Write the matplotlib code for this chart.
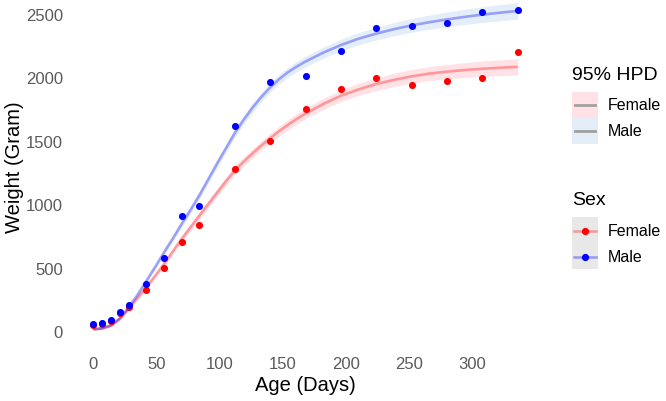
import matplotlib
matplotlib.use("Agg")
import matplotlib.pyplot as plt
from matplotlib.patches import Rectangle
from matplotlib.lines import Line2D

plt.rcParams['font.family'] = ['Liberation Sans', 'DejaVu Sans']

# observed data
obs_age = [0, 7, 14, 21, 28, 42, 56, 70, 84, 112, 140, 168, 196, 224, 252, 280, 308, 336]
female_obs = [48, 56, 82, 140, 192, 326, 494, 700, 836, 1278, 1496, 1748, 1909, 1993, 1943, 1969, 1993, 2203]
male_obs = [55, 63, 89, 152, 207, 371, 573, 905, 983, 1619, 1966, 2013, 2211, 2387, 2405, 2429, 2518, 2534]

# fitted curves (posterior mean) and 95% HPD half-widths
fit_age = [0, 7, 14, 21, 28, 35, 42, 49, 56, 63, 70, 77, 84, 91, 98, 105, 112, 119, 126, 133,
           140, 147, 154, 161, 168, 182, 196, 210, 224, 238, 252, 266, 280, 294, 308, 322, 336]
female_fit = [12, 20, 42, 95, 175, 260, 345, 435, 528, 628, 726, 818, 909, 1000, 1090, 1180,
              1265, 1335, 1400, 1462, 1520, 1575, 1625, 1672, 1715, 1790, 1855, 1905, 1948,
              1980, 2008, 2030, 2045, 2058, 2068, 2076, 2083]
male_fit = [15, 22, 45, 100, 185, 285, 395, 505, 620, 730, 845, 955, 1070, 1195, 1320, 1440,
            1560, 1665, 1760, 1845, 1920, 1985, 2040, 2085, 2125, 2195, 2255, 2305, 2345,
            2380, 2410, 2435, 2457, 2477, 2495, 2510, 2524]
female_hpd = [8, 9, 10, 12, 14, 16, 18, 20, 22, 24, 26, 28, 30, 31, 32, 33, 34, 35, 36, 37,
              38, 39, 40, 41, 42, 44, 46, 48, 50, 52, 54, 55, 56, 58, 60, 62, 64]
male_hpd = [8, 9, 10, 12, 14, 16, 18, 20, 22, 24, 26, 28, 30, 31, 32, 33, 34, 35, 36, 37,
            38, 39, 40, 41, 42, 44, 46, 48, 50, 52, 54, 56, 58, 60, 62, 64, 66]

x_ticks = [0, 50, 100, 150, 200, 250, 300]
y_ticks = [0, 500, 1000, 1500, 2000, 2500]

W, H = 666, 402
fig = plt.figure(figsize=(W / 100, H / 100), dpi=100)
ax = fig.add_axes([72 / W, (H - 348) / H, (539 - 72) / W, 348 / H])

f_lo = [m - h for m, h in zip(female_fit, female_hpd)]
f_hi = [m + h for m, h in zip(female_fit, female_hpd)]
m_lo = [m - h for m, h in zip(male_fit, male_hpd)]
m_hi = [m + h for m, h in zip(male_fit, male_hpd)]

ax.fill_between(fit_age, f_lo, f_hi, color='#FFB6C1', alpha=0.4, lw=0)
ax.fill_between(fit_age, m_lo, m_hi, color='#B0CFEF', alpha=0.35, lw=0)
ax.plot(fit_age, female_fit, color='red', alpha=0.33, lw=1.9, solid_capstyle='butt')
ax.plot(fit_age, male_fit, color='blue', alpha=0.33, lw=1.9, solid_capstyle='butt')
ax.scatter(obs_age, female_obs, s=26, color='#FF0000', zorder=3, lw=0)
ax.scatter(obs_age, male_obs, s=26, color='#0000FF', zorder=4, lw=0)

ax.set_xlim(-16.8, 352.8)
ax.set_ylim(-126, 2618)
ax.set_xticks(x_ticks)
ax.set_yticks(y_ticks)
ax.tick_params(length=0, labelsize=12, colors='#5A5A5A', pad=6.5)
for s in ax.spines.values():
    s.set_visible(False)
ax.set_xlabel('Age (Days)', fontsize=14.5, color='black', labelpad=3)
fig.text(15 / W, 1 - 167 / H, 'Weight (Gram)', fontsize=14.5, rotation=90,
         ha='center', va='center', color='black')

# legends drawn in pixel coordinates
lg = fig.add_axes([0, 0, 1, 1], facecolor='none')
lg.set_xlim(0, W)
lg.set_ylim(H, 0)
lg.axis('off')

lg.text(572, 75, '95% HPD', fontsize=14, va='center', ha='left')
lg.add_patch(Rectangle((572, 93), 26, 26, color='#FFB6C1', alpha=0.4, lw=0))
lg.add_patch(Rectangle((572, 119), 26, 26, color='#B0CFEF', alpha=0.35, lw=0))
for yc in (106, 132):
    lg.add_line(Line2D([575, 595], [yc, yc], color='#A0A0A0', lw=2))
lg.text(608, 106, 'Female', fontsize=11.5, va='center', ha='left')
lg.text(608, 132, 'Male', fontsize=11.5, va='center', ha='left')

lg.text(572, 201, 'Sex', fontsize=14, va='center', ha='left')
lg.add_patch(Rectangle((572, 218), 26, 52, color='#E8E8E8', lw=0))
for yc, c in ((232, 'red'), (258, 'blue')):
    lg.add_line(Line2D([574, 596], [yc, yc], color=c, alpha=0.33, lw=1.9))
    lg.add_line(Line2D([585], [yc], color=c, marker='o', markersize=5.2, lw=0,
                       markeredgewidth=0))
lg.text(608, 232, 'Female', fontsize=11.5, va='center', ha='left')
lg.text(608, 258, 'Male', fontsize=11.5, va='center', ha='left')

fig.savefig('out.png', dpi=100)
